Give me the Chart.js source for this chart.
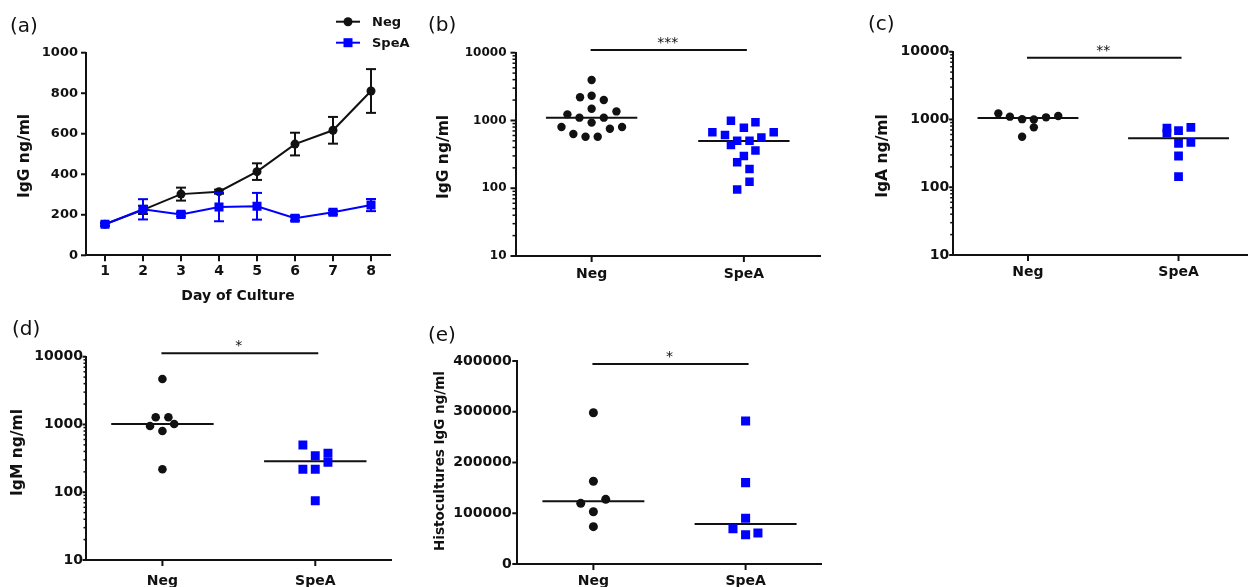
<!DOCTYPE html>
<html>
<head>
<meta charset="utf-8">
<script src="https://cdn.jsdelivr.net/npm/chart.js@4.4.0/dist/chart.umd.min.js"></script>
<style>
html, body { margin: 0; padding: 0; width: 1248px; height: 587px; overflow: hidden; background: #fff; }
canvas { position: absolute; }
.tag { position: absolute; font: 20px "DejaVu Sans"; line-height: 20px; color: #111; }
</style>
</head>
<body>
<canvas id="pa" width="420" height="320" style="left:0px;top:0px"></canvas>
<canvas id="pb" width="420" height="320" style="left:420px;top:0px"></canvas>
<canvas id="pc" width="420" height="320" style="left:840px;top:0px"></canvas>
<canvas id="pd" width="420" height="310" style="left:0px;top:300px"></canvas>
<canvas id="pe" width="420" height="310" style="left:420px;top:300px"></canvas>
<div class="tag" style="left:10px;top:15px">(a)</div>
<div class="tag" style="left:428px;top:14px">(b)</div>
<div class="tag" style="left:868px;top:13px">(c)</div>
<div class="tag" style="left:12px;top:318px">(d)</div>
<div class="tag" style="left:428px;top:324px">(e)</div>
<script>
// values
const groups = ['Neg', 'SpeA'];

// (a) IgG by day of culture (mean, error)
const days = [1, 2, 3, 4, 5, 6, 7, 8];
const negMean = [153, 224, 302, 314, 413, 549, 617, 811];
const negErr = [8, 20, 32, 10, 41, 56, 66, 108];
const speaMean = [153, 227, 202, 238, 242, 183, 212, 248];
const speaErr = [8, 50, 10, 70, 66, 12, 10, 30];
const aTicks = [0, 200, 400, 600, 800, 1000];

// (b) IgG ng/ml
const bNeg = [3950, 2200, 2320, 2000, 1490, 1230, 1360, 1100, 1100, 930, 800, 800, 755, 630, 575, 575];
const bNegJit = [0, -0.076, 0, 0.08, 0, -0.159, 0.163, -0.08, 0.08, 0, -0.198, 0.2, 0.12, -0.12, -0.04, 0.04];
const bSpeA = [990, 780, 940, 670, 670, 610, 560, 500, 500, 435, 360, 300, 242, 192, 125, 96];
const bSpeAJit = [-0.085, 0, 0.076, -0.207, 0.196, -0.124, 0.115, -0.044, 0.037, -0.085, 0.076, 0, -0.044, 0.037, 0.037, -0.044];
const bMedian = [1100, 498];

// (c) IgA ng/ml
const cNeg = [1230, 1100, 1010, 1000, 1075, 1125, 765, 557];
const cNegJit = [-0.197, -0.12, -0.039, 0.039, 0.12, 0.201, 0.039, -0.039];
const cSpeA = [765, 748, 631, 682, 460, 445, 289, 143];
const cSpeAJit = [0.082, -0.077, -0.077, 0, 0.082, 0, 0, 0];
const cMedian = [1050, 527];

// (d) IgM ng/ml
const dNeg = [4690, 1275, 1275, 948, 1015, 800, 218];
const dNegJit = [0, -0.044, 0.039, -0.081, 0.077, 0, 0];
const dSpeA = [498, 346, 376, 277, 218, 218, 75];
const dSpeAJit = [-0.081, 0, 0.083, 0.083, -0.081, 0, 0];
const dMedian = [1015, 286];

// (e) Histocultures IgG ng/ml
const eNeg = [298000, 163000, 119500, 127400, 103000, 73600];
const eNegJit = [0, 0, -0.083, 0.081, 0, 0];
const eSpeA = [281800, 160300, 90000, 69600, 57800, 61100];
const eSpeAJit = [0, 0, 0, -0.083, 0, 0.081];
const eMedian = [123500, 78800];
const eTicks = [0, 100000, 200000, 300000, 400000];

const logTicks = [10, 100, 1000, 10000];

const BLACK = '#111';
const BLUE = '#0000ff';
Chart.defaults.font.family = '"DejaVu Sans", sans-serif';
Chart.defaults.color = BLACK;

function seg(ctx, x1, y1, x2, y2) {
  ctx.beginPath();
  ctx.moveTo(x1, y1);
  ctx.lineTo(x2, y2);
  ctx.stroke();
}

// ticks, medians, error bars, significance bars, titles
const deco = {
  id: 'deco',
  beforeDatasetsDraw(chart, args, o) {
    if (!o.medians) return;
    const {ctx, scales: {x, y}} = chart;
    ctx.save();
    ctx.strokeStyle = BLACK;
    ctx.lineWidth = 2;
    o.medians.forEach((m, i) => {
      const py = y.getPixelForValue(m);
      seg(ctx, x.getPixelForValue(i + 1 - o.medianHalf), py, x.getPixelForValue(i + 1 + o.medianHalf), py);
    });
    ctx.restore();
  },
  afterDatasetDraw(chart, args, o) {
    const err = o.errors && o.errors[args.index];
    if (!err) return;
    const ds = chart.data.datasets[args.index];
    const {ctx, scales: {x, y}} = chart;
    ctx.save();
    ctx.strokeStyle = ds.borderColor;
    ctx.lineWidth = 2;
    ds.data.forEach((p, i) => {
      const px = x.getPixelForValue(p.x);
      const top = y.getPixelForValue(p.y + err[i]);
      const bot = y.getPixelForValue(p.y - err[i]);
      seg(ctx, px, top, px, bot);
      seg(ctx, px - 5, top, px + 5, top);
      seg(ctx, px - 5, bot, px + 5, bot);
    });
    ctx.restore();
  },
  afterDraw(chart, args, o) {
    const {ctx, chartArea: a, scales: {x, y}} = chart;
    ctx.save();
    ctx.strokeStyle = BLACK;
    ctx.fillStyle = BLACK;
    // major ticks
    ctx.lineWidth = 2;
    y.ticks.forEach(t => {
      const py = y.getPixelForValue(t.value);
      seg(ctx, a.left - o.tickLen, py, a.left, py);
    });
    x.ticks.forEach(t => {
      const px = x.getPixelForValue(t.value);
      seg(ctx, px, a.bottom, px, a.bottom + 6);
    });
    // minor log ticks
    if (o.minor) {
      ctx.lineWidth = 1.5;
      for (let d = y.min; d < y.max; d *= 10) {
        for (let k = 2; k <= 9; k++) {
          const py = y.getPixelForValue(d * k);
          seg(ctx, a.left - o.minorLen, py, a.left, py);
        }
      }
    }
    // significance bar
    if (o.sig) {
      ctx.lineWidth = 2;
      const py = y.getPixelForValue(o.sig.y);
      const x1 = x.getPixelForValue(1), x2 = x.getPixelForValue(2);
      seg(ctx, x1 - 1, py, x2 + 3, py);
      ctx.font = '14px "DejaVu Sans"';
      ctx.textAlign = 'center';
      ctx.textBaseline = 'alphabetic';
      ctx.fillText(o.sig.text, (x1 + x2) / 2, py - 3);
    }
    // y title
    if (o.yTitle) {
      ctx.save();
      ctx.translate(o.yTitle.x, o.yTitle.y);
      ctx.rotate(-Math.PI / 2);
      ctx.font = 'bold ' + (o.yTitle.size || 15.5) + 'px "DejaVu Sans"';
      ctx.textAlign = 'center';
      ctx.textBaseline = 'middle';
      ctx.fillText(o.yTitle.text, 0, 0);
      ctx.restore();
    }
    // legend
    if (o.legend) {
      ctx.font = 'bold 13px "DejaVu Sans"';
      ctx.textAlign = 'left';
      ctx.textBaseline = 'middle';
      chart.data.datasets.forEach((ds, i) => {
        const ly = o.legend.y + i * o.legend.dy;
        const lx = o.legend.x;
        ctx.strokeStyle = ds.borderColor;
        ctx.fillStyle = ds.backgroundColor;
        ctx.lineWidth = 2;
        seg(ctx, lx, ly, lx + 24, ly);
        if (ds.pointStyle === 'rect') {
          ctx.fillRect(lx + 12 - 4.5, ly - 4.5, 9, 9);
        } else {
          ctx.beginPath();
          ctx.arc(lx + 12, ly, 4.5, 0, Math.PI * 2);
          ctx.fill();
        }
        ctx.fillStyle = BLACK;
        ctx.fillText(ds.label, lx + 36, ly + 1);
      });
    }
    ctx.restore();
  }
};

function build(id, box, area, spec) {
  const yw = area.l - box.l;
  const xh = box.t + box.h - area.b;
  new Chart(document.getElementById(id), {
    type: 'scatter',
    data: {datasets: spec.datasets},
    plugins: [deco],
    options: {
      responsive: false,
      animation: false,
      events: [],
      layout: {padding: {left: 0, top: area.t - box.t, right: box.l + box.w - area.r, bottom: 0}},
      plugins: {legend: {display: false}, tooltip: {enabled: false}, deco: spec.deco},
      scales: {
        x: {
          type: 'linear',
          min: 0.5,
          max: spec.xMax,
          grid: {display: false, drawTicks: false},
          border: {color: BLACK, width: 2},
          afterBuildTicks: s => { s.ticks = spec.xTicks.map(v => ({value: v})); },
          afterFit: s => { s.height = xh; },
          ticks: {
            padding: spec.xPad,
            maxRotation: 0,
            font: {size: 14, weight: 'bold'},
            color: BLACK,
            callback: spec.xLabel
          },
          title: spec.xTitle || {display: false}
        },
        y: {
          type: spec.yType,
          min: spec.yTicks[0],
          max: spec.yTicks[spec.yTicks.length - 1],
          grid: {display: false, drawTicks: false},
          border: {color: BLACK, width: 2},
          afterBuildTicks: s => { s.ticks = spec.yTicks.map(v => ({value: v})); },
          afterFit: s => { s.width = yw; },
          ticks: {
            padding: spec.yPad,
            font: {size: spec.yFont, weight: 'bold'},
            color: BLACK,
            callback: v => String(v)
          }
        }
      }
    }
  });
}

function dots(values, jit, g) {
  return values.map((v, i) => ({x: g + jit[i], y: v}));
}

function dotSets(neg, negJit, spea, speaJit, rc, rs) {
  return [
    {label: groups[0], data: dots(neg, negJit, 1), pointStyle: 'circle', pointRadius: rc,
     backgroundColor: BLACK, borderColor: BLACK, pointBorderWidth: 0},
    {label: groups[1], data: dots(spea, speaJit, 2), pointStyle: 'rect', pointRadius: rs,
     backgroundColor: BLUE, borderColor: BLUE, pointBorderWidth: 0}
  ];
}

const catLabel = v => groups[v - 1];

// (a)
build('pa', {l: 0, t: 0, w: 420, h: 320}, {l: 86, t: 52.7, r: 390, b: 255.3}, {
  datasets: [
    {label: groups[0], data: days.map((d, i) => ({x: d, y: negMean[i]})), showLine: true,
     borderColor: BLACK, backgroundColor: BLACK, borderWidth: 2, pointStyle: 'circle',
     pointRadius: 4.5, pointBorderWidth: 0, order: 1},
    {label: groups[1], data: days.map((d, i) => ({x: d, y: speaMean[i]})), showLine: true,
     borderColor: BLUE, backgroundColor: BLUE, borderWidth: 2, pointStyle: 'rect',
     pointRadius: 6.4, pointBorderWidth: 0, order: 0}
  ],
  xMax: 8.5, xTicks: days, xPad: 8, xLabel: v => String(v),
  xTitle: {display: true, text: 'Day of Culture', font: {size: 14, weight: 'bold'}, color: BLACK,
           padding: {top: 0, bottom: 15.6}},
  yType: 'linear', yTicks: aTicks, yPad: 8, yFont: 13,
  deco: {tickLen: 5, errors: [negErr, speaErr], yTitle: {text: 'IgG ng/ml', x: 25, y: 156},
         legend: {x: 336, y: 21.7, dy: 21}}
});

// (b)
build('pb', {l: 420, t: 0, w: 420, h: 320}, {l: 515.5, t: 52.7, r: 820, b: 256}, {
  datasets: dotSets(bNeg, bNegJit, bSpeA, bSpeAJit, 4.2, 6),
  xMax: 2.5, xTicks: [1, 2], xPad: 9.6, xLabel: catLabel,
  yType: 'logarithmic', yTicks: logTicks, yPad: 9, yFont: 12,
  deco: {tickLen: 5, minor: true, minorLen: 3, medians: bMedian, medianHalf: 0.3,
         sig: {y: 10960, text: '***'}, yTitle: {text: 'IgG ng/ml', x: 24, y: 157}}
});

// (c)
build('pc', {l: 840, t: 0, w: 420, h: 320}, {l: 952.7, t: 51.7, r: 1257, b: 255}, {
  datasets: dotSets(cNeg, cNegJit, cSpeA, cSpeAJit, 4.2, 6.2),
  xMax: 2.5, xTicks: [1, 2], xPad: 9.3, xLabel: catLabel,
  yType: 'logarithmic', yTicks: logTicks, yPad: 3.5, yFont: 14,
  deco: {tickLen: 3.5, minor: true, minorLen: 2.5, medians: cMedian, medianHalf: 0.335,
         sig: {y: 8150, text: '**'}, yTitle: {text: 'IgA ng/ml', x: 43, y: 156}}
});

// (d)
build('pd', {l: 0, t: 300, w: 420, h: 310}, {l: 86, t: 356.7, r: 391.7, b: 560}, {
  datasets: dotSets(dNeg, dNegJit, dSpeA, dSpeAJit, 4.3, 6.3),
  xMax: 2.5, xTicks: [1, 2], xPad: 13, xLabel: catLabel,
  yType: 'logarithmic', yTicks: logTicks, yPad: 3, yFont: 14,
  deco: {tickLen: 3.5, minor: true, minorLen: 2.5, medians: dMedian, medianHalf: 0.335,
         sig: {y: 11225, text: '*'}, yTitle: {text: 'IgM ng/ml', x: 17.5, y: 152.5}}
});

// (e)
build('pe', {l: 420, t: 300, w: 420, h: 310}, {l: 517.3, t: 361, r: 821.7, b: 564}, {
  datasets: dotSets(eNeg, eNegJit, eSpeA, eSpeAJit, 4.5, 6.4),
  xMax: 2.5, xTicks: [1, 2], xPad: 9.3, xLabel: catLabel,
  yType: 'linear', yTicks: eTicks, yPad: 5.5, yFont: 14,
  deco: {tickLen: 5, medians: eMedian, medianHalf: 0.335,
         sig: {y: 394000, text: '*'}, yTitle: {text: 'Histocultures IgG ng/ml', x: 20, y: 161, size: 13.5}}
});
</script>
</body>
</html>
